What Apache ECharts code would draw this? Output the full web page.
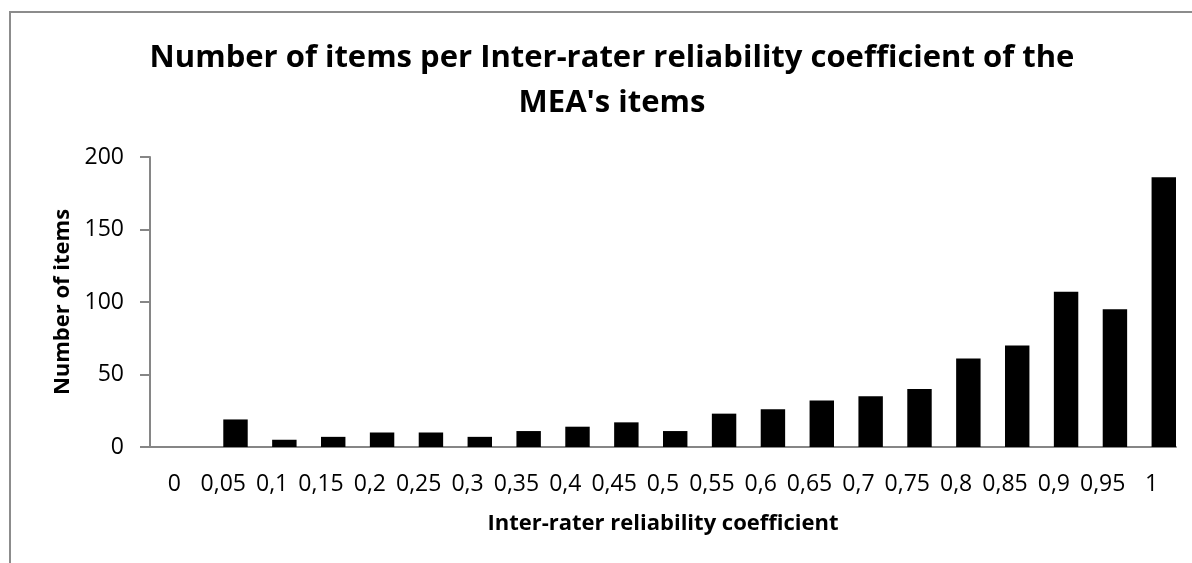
<!DOCTYPE html>
<html>
<head>
<meta charset="utf-8">
<script src="https://cdn.jsdelivr.net/npm/echarts@6/dist/echarts.min.js"></script>
<style>
  html, body { margin: 0; padding: 0; background: #fff; }
  #main { width: 1192px; height: 563px; }
</style>
</head>
<body>
<div id="main"></div>
<script>
// categories on the x axis (coefficient, comma decimal as in the source)
const coefficients = ['0', '0,05', '0,1', '0,15', '0,2', '0,25', '0,3', '0,35', '0,4', '0,45', '0,5',
  '0,55', '0,6', '0,65', '0,7', '0,75', '0,8', '0,85', '0,9', '0,95', '1'];
// number of items per coefficient
const itemCounts = [0, 19, 5, 7, 10, 10, 7, 11, 14, 17, 11, 23, 26, 32, 35, 40, 61, 70, 107, 95, 186];
const yTicks = [0, 50, 100, 150, 200];

const titleText = "Number of items per Inter-rater reliability coefficient of the\nMEA's items";
const font = "'Open Sans', 'Noto Sans', sans-serif";
const axisGrey = '#868686';

const chart = echarts.init(document.getElementById('main'));

const option = {
  backgroundColor: '#fff',
  animation: false,
  textStyle: { fontFamily: font },
  graphic: [{
    type: 'rect',
    shape: { x: 10, y: 12, width: 1400, height: 800 },
    style: { fill: 'none', stroke: '#8c8c8c', lineWidth: 2 },
    silent: true
  }],
  title: {
    text: titleText,
    left: 607,
    textAlign: 'center',
    top: 31,
    textStyle: {
      fontFamily: font,
      fontWeight: 'bold',
      fontSize: 31,
      lineHeight: 45,
      color: '#000'
    }
  },
  grid: { left: 150, right: 16, top: 157, bottom: 116 },
  xAxis: {
    type: 'category',
    data: coefficients,
    name: 'Inter-rater reliability coefficient',
    nameLocation: 'middle',
    nameGap: 66,
    nameTextStyle: { fontFamily: font, fontWeight: 'bold', fontSize: 22, color: '#000' },
    axisLine: { lineStyle: { color: axisGrey, width: 2 } },
    axisTick: { show: false },
    axisLabel: { interval: 0, margin: 26, fontSize: 23, color: '#000', fontFamily: font },
    splitLine: { show: false }
  },
  yAxis: {
    type: 'value',
    min: yTicks[0],
    max: yTicks[yTicks.length - 1],
    interval: 50,
    name: 'Number of items',
    nameLocation: 'middle',
    nameGap: 76,
    nameTextStyle: { fontFamily: font, fontWeight: 'bold', fontSize: 22, color: '#000' },
    axisLine: { show: true, lineStyle: { color: axisGrey, width: 2 } },
    axisTick: { show: true, length: 10, lineStyle: { color: axisGrey, width: 2 } },
    axisLabel: { margin: 26, fontSize: 23, color: '#000', fontFamily: font },
    splitLine: { show: false }
  },
  series: [
    {
      // empty slot series, so the bars sit in the right half of each category
      name: 'slot',
      type: 'bar',
      data: coefficients.map(() => '-'),
      barGap: '0%',
      barCategoryGap: '0%'
    },
    {
      name: 'Number of items',
      type: 'bar',
      data: itemCounts,
      barGap: '0%',
      barCategoryGap: '0%',
      itemStyle: { color: '#000' }
    }
  ]
};

chart.setOption(option);
</script>
</body>
</html>
